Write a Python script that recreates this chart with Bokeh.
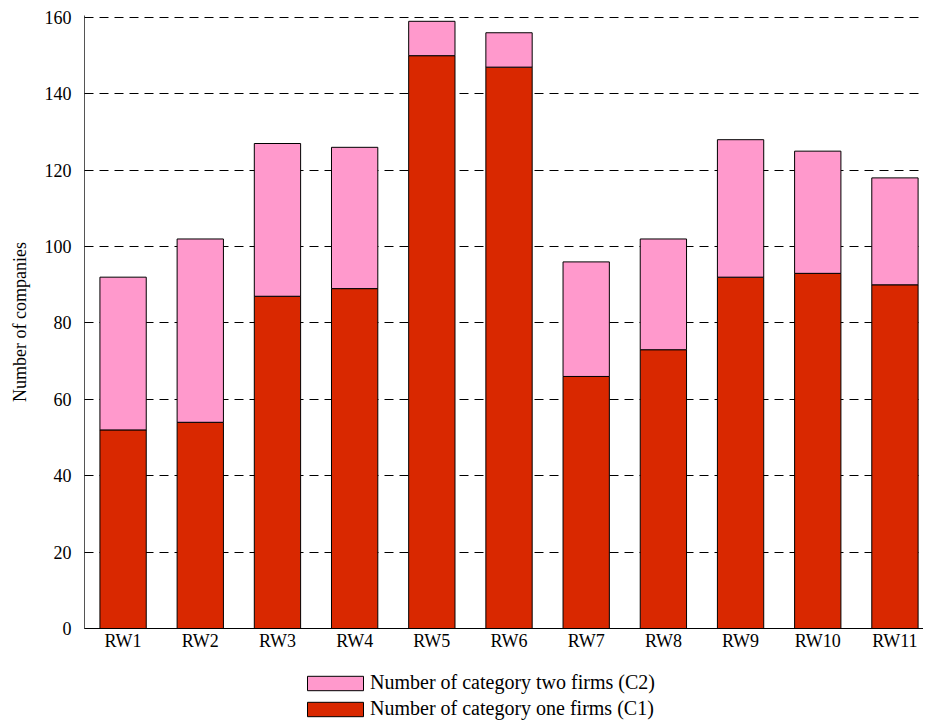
from bokeh.plotting import figure
from bokeh.models import Range1d, FixedTicker, Legend, LegendItem, ColumnDataSource
from bokeh.layouts import column
from bokeh.embed import file_html
from bokeh.resources import INLINE

categories = ["RW1", "RW2", "RW3", "RW4", "RW5", "RW6", "RW7", "RW8", "RW9", "RW10", "RW11"]
c1 = [52, 54, 87, 89, 150, 147, 66, 73, 92, 93, 90]
c2 = [40, 48, 40, 37, 9, 9, 30, 29, 36, 32, 28]
y_ticks = [0, 20, 40, 60, 80, 100, 120, 140, 160]
series_labels = ["Number of category one firms (C1)", "Number of category two firms (C2)"]
series_colors = ["#D92800", "#FF99CC"]

xs = list(range(1, len(categories) + 1))
src = ColumnDataSource(dict(x=xs, c1=c1, c2=c2))

FONT = "Liberation Serif"

p = figure(frame_width=839, frame_height=613, output_backend="svg", toolbar_location=None,
           x_range=Range1d(0.5, 11.37), y_range=Range1d(0, 160.52),
           min_border_left=84, min_border_top=15, min_border_right=0, min_border_bottom=30)
p.outline_line_color = None

p.xgrid.grid_line_color = None
p.ygrid.grid_line_color = "black"
p.ygrid.grid_line_dash = "9 6"
p.ygrid.grid_line_width = 1
p.ygrid.ticker = FixedTicker(ticks=y_ticks)

rs = p.vbar_stack(["c1", "c2"], x="x", width=0.6, source=src,
                  color=series_colors, line_color="black", line_width=1)

p.xaxis.ticker = FixedTicker(ticks=xs)
p.xaxis.major_label_overrides = {x: c for x, c in zip(xs, categories)}
p.xaxis.major_tick_line_color = None
p.xaxis.major_tick_in = 0
p.xaxis.major_tick_out = 0
p.xaxis.minor_tick_line_color = None
p.xaxis.axis_line_color = "black"
p.xaxis.major_label_text_font = FONT
p.xaxis.major_label_text_font_size = "18px"
p.xaxis.major_label_text_color = "black"
p.xaxis.major_label_standoff = 2

p.yaxis.ticker = FixedTicker(ticks=y_ticks)
p.yaxis.major_tick_in = 5
p.yaxis.major_tick_out = 0
p.yaxis.minor_tick_line_color = None
p.yaxis.axis_line_color = "#555555"
p.yaxis.major_label_text_font = FONT
p.yaxis.major_label_text_font_size = "18px"
p.yaxis.major_label_text_color = "black"
p.yaxis.major_label_standoff = 13
p.yaxis.axis_label = "Number of companies"
p.yaxis.axis_label_text_font = FONT
p.yaxis.axis_label_text_font_size = "18px"
p.yaxis.axis_label_text_font_style = "normal"
p.yaxis.axis_label_text_color = "black"
p.yaxis.axis_label_standoff = 12

# legend panel below the chart (proxy glyphs lie outside its visible range)
p2 = figure(width=923, height=64, output_backend="svg", toolbar_location=None,
            x_axis_type=None, y_axis_type=None, x_range=Range1d(0, 1), y_range=Range1d(0, 1),
            min_border_left=0, min_border_right=0, min_border_top=0, min_border_bottom=0)
p2.outline_line_color = None
p2.xgrid.grid_line_color = None
p2.ygrid.grid_line_color = None
leg_src = ColumnDataSource(dict(x=[-10], top=[-10]))
swatches = [p2.vbar(x="x", top="top", width=0.1, source=leg_src, color=c, line_color="black",
                    line_width=1) for c in series_colors]

legend = Legend(items=[LegendItem(label=series_labels[1], renderers=[swatches[1]]),
                       LegendItem(label=series_labels[0], renderers=[swatches[0]])],
                location=(216, 2), orientation="vertical")
legend.border_line_color = None
legend.background_fill_alpha = 0
legend.glyph_width = 70
legend.glyph_height = 18
legend.label_text_font = FONT
legend.label_text_font_size = "20px"
legend.label_text_color = "black"
legend.label_height = 18
legend.spacing = 3
legend.padding = 0
legend.margin = 0
legend.label_standoff = 0
p2.add_layout(legend)

layout = column(p, p2, spacing=0)
open("out.html", "w").write(file_html(layout, INLINE))
